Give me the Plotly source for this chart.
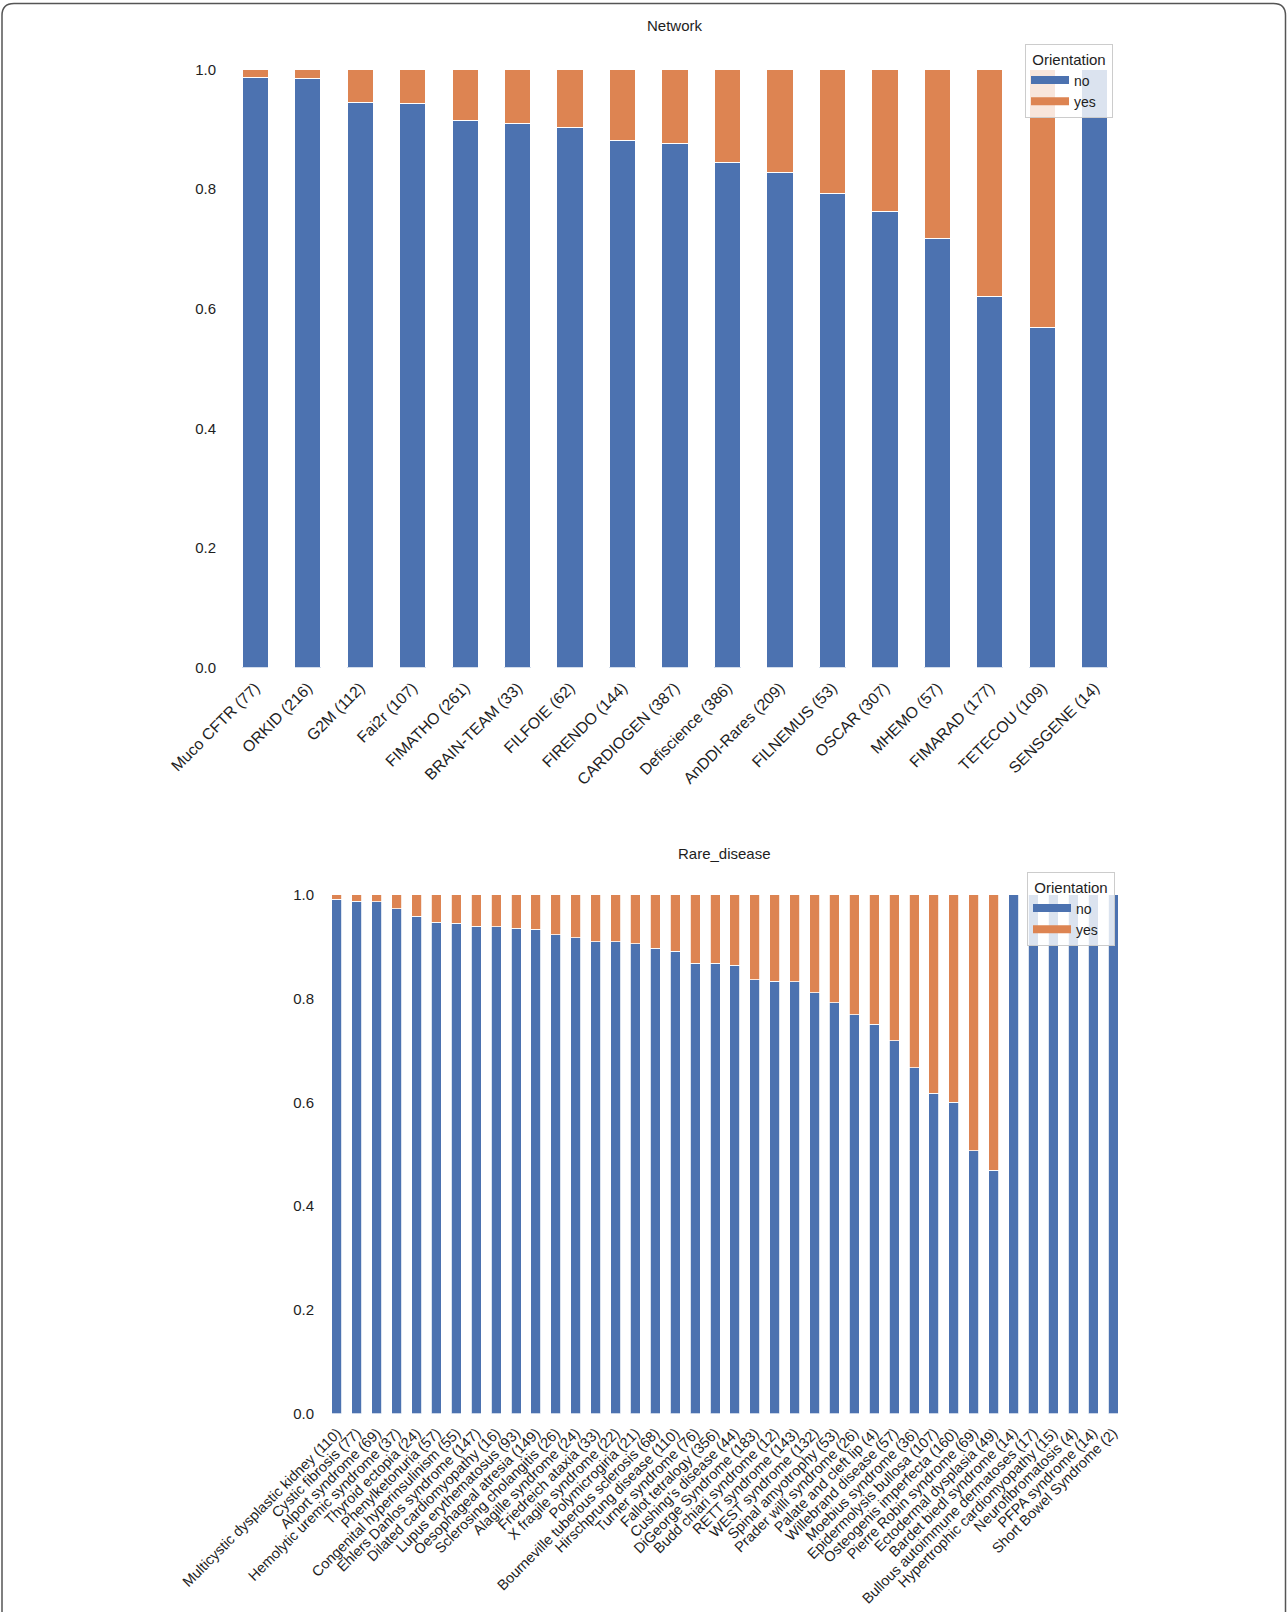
import plotly.graph_objects as go

# ---------------- data ----------------
network_labels = ["Muco CFTR (77)", "ORKID (216)", "G2M (112)", "Fai2r (107)", "FIMATHO (261)",
                  "BRAIN-TEAM (33)", "FILFOIE (62)", "FIRENDO (144)", "CARDIOGEN (387)",
                  "Defiscience (386)", "AnDDI-Rares (209)", "FILNEMUS (53)", "OSCAR (307)",
                  "MHEMO (57)", "FIMARAD (177)", "TETECOU (109)", "SENSGENE (14)"]
network_no = [0.986, 0.984, 0.945, 0.943, 0.915, 0.909, 0.902, 0.881, 0.876,
              0.844, 0.827, 0.792, 0.762, 0.717, 0.621, 0.568, 1.0]
network_yes = [0.014, 0.016, 0.055, 0.057, 0.085, 0.091, 0.098, 0.119, 0.124,
               0.156, 0.173, 0.208, 0.238, 0.283, 0.379, 0.432, 0.0]

disease_labels = ["Multicystic dysplastic kidney (110)", "Cystic fibrosis (77)", "Alport syndrome (69)",
                  "Hemolytic uremic syndrome (37)", "Thyroid ectopia (24)", "Phenylketonuria (57)",
                  "Congenital hyperinsulinism (55)", "Ehlers Danlos syndrome (147)",
                  "Dilated cardiomyopathy (16)", "Lupus erythematosus (93)", "Oesophageal atresia (149)",
                  "Sclerosing cholangitis (26)", "Alagille syndrome (24)", "Friedreich ataxia (33)",
                  "X fragile syndrome (22)", "Polymicrogiria (21)", "Bourneville tuberous sclerosis (68)",
                  "Hirschprung disease (110)", "Turner syndrome (76)", "Fallot tetralogy (356)",
                  "Cushing's disease (44)", "DiGeorge Syndrome (183)", "Budd chiari syndrome (12)",
                  "RETT syndrome (143)", "WEST syndrome (132)", "Spinal amyotrophy (53)",
                  "Prader willi syndrome (26)", "Palate and cleft lip (4)", "Willebrand disease (57)",
                  "Moebius syndrome (36)", "Epidermolysis bullosa (107)", "Osteogenis imperfecta (160)",
                  "Pierre Robin syndrome (69)", "Ectodermal dysplasia (49)", "Bardet biedl syndrome (14)",
                  "Bullous autoimmune dermatoses (17)", "Hypertrophic cardiomyopathy (15)",
                  "Neurofibromatosis (4)", "PFPA syndrome (14)", "Short Bowel Syndrome (2)"]
disease_no = [0.991, 0.987, 0.986, 0.973, 0.958, 0.947, 0.945, 0.939, 0.938, 0.935,
              0.933, 0.923, 0.917, 0.909, 0.909, 0.905, 0.897, 0.891, 0.868, 0.868,
              0.864, 0.836, 0.833, 0.832, 0.811, 0.792, 0.769, 0.750, 0.719, 0.667,
              0.617, 0.600, 0.507, 0.469, 1.0, 1.0, 1.0, 1.0, 1.0, 1.0]
disease_yes = [round(1 - v, 3) for v in disease_no]

y_ticks = [0.0, 0.2, 0.4, 0.6, 0.8, 1.0]
y_tick_text = ["0.0", "0.2", "0.4", "0.6", "0.8", "1.0"]

BLUE = "#4C72B0"
ORANGE = "#DD8452"
TEXT = "#1e1e1e"
FONT = "Liberation Sans, Arial, sans-serif"

W, H = 1287, 1612


def px_x(px):
    return px / W


def px_y(py):
    return 1 - py / H


fig = go.Figure()

# top chart bars
fig.add_trace(go.Bar(x=network_labels, y=network_no, name="no", marker_color=BLUE,
                     marker_line=dict(color="white", width=1), width=0.5,
                     xaxis="x", yaxis="y", showlegend=False))
fig.add_trace(go.Bar(x=network_labels, y=network_yes, name="yes", marker_color=ORANGE,
                     marker_line=dict(color="white", width=1), width=0.5,
                     xaxis="x", yaxis="y", showlegend=False))
# bottom chart bars
fig.add_trace(go.Bar(x=disease_labels, y=disease_no, name="no", marker_color=BLUE,
                     marker_line=dict(color="white", width=0.8), width=0.5,
                     xaxis="x2", yaxis="y2", showlegend=False))
fig.add_trace(go.Bar(x=disease_labels, y=disease_yes, name="yes", marker_color=ORANGE,
                     marker_line=dict(color="white", width=0.8), width=0.5,
                     xaxis="x2", yaxis="y2", showlegend=False))

# legend entries (wide patch look)
for nm, col in (("no", BLUE), ("yes", ORANGE)):
    fig.add_trace(go.Scatter(x=[None], y=[None], mode="lines", name=nm,
                             line=dict(color=col, width=8), xaxis="x", yaxis="y",
                             legend="legend", showlegend=True))
for nm, col in (("no", BLUE), ("yes", ORANGE)):
    fig.add_trace(go.Scatter(x=[None], y=[None], mode="lines", name=nm,
                             line=dict(color=col, width=8), xaxis="x2", yaxis="y2",
                             legend="legend2", showlegend=True))

common_y = dict(range=[0, 1.05], tickvals=y_ticks, ticktext=y_tick_text, showgrid=False,
                zeroline=False, showline=False, ticks="", ticklabelstandoff=12,
                automargin=False, fixedrange=True)
common_x = dict(showgrid=False, zeroline=False, showline=False, ticks="", tickangle=-45,
                automargin=False, ticklabelstandoff=7, fixedrange=True)

legend_common = dict(bgcolor="rgba(255,255,255,0.8)", bordercolor="#cccccc", borderwidth=1,
                     font=dict(family=FONT, size=14, color=TEXT),
                     title=dict(text="&nbsp;Orientation&nbsp;", side="top center",
                                font=dict(family=FONT, size=15, color=TEXT)),
                     itemwidth=38, tracegroupgap=0, traceorder="normal",
                     xanchor="right", yanchor="top")

fig.update_layout(
    width=W, height=H,
    margin=dict(l=0, r=0, t=0, b=0),
    paper_bgcolor="white", plot_bgcolor="white",
    barmode="stack",
    font=dict(family=FONT, size=15, color=TEXT),
    xaxis=dict(domain=[px_x(229), px_x(1121)], anchor="y", range=[-0.5, len(network_labels) - 0.5],
               tickfont=dict(size=15.8), **common_x),
    yaxis=dict(domain=[px_y(667.6), px_y(39.4)], anchor="x", tickfont=dict(size=15), **common_y),
    xaxis2=dict(domain=[px_x(327), px_x(1123)], anchor="y2", range=[-0.5, len(disease_labels) - 0.5],
                tickfont=dict(size=14.5), **common_x),
    yaxis2=dict(domain=[px_y(1413.7), px_y(868.7)], anchor="x2", tickfont=dict(size=15), **common_y),
    legend=dict(x=px_x(1113), y=px_y(44), **legend_common),
    legend2=dict(x=px_x(1115), y=px_y(872), **legend_common),
    annotations=[
        dict(text="Network", x=px_x(675), y=px_y(26), xref="paper", yref="paper",
             showarrow=False, font=dict(family=FONT, size=15, color=TEXT),
             xanchor="center", yanchor="middle"),
        dict(text="Rare_disease", x=px_x(725), y=px_y(854), xref="paper", yref="paper",
             showarrow=False, font=dict(family=FONT, size=15, color=TEXT),
             xanchor="center", yanchor="middle"),
    ],
)

# rounded frame around the figure (open at the bottom)
r = 12
lx, ty, rx, by = 2, 3.5, 1285.5, 1630
path = (f"M {px_x(lx)},{px_y(by)} L {px_x(lx)},{px_y(ty + r)} "
        f"Q {px_x(lx)},{px_y(ty)} {px_x(lx + r)},{px_y(ty)} "
        f"L {px_x(rx - r)},{px_y(ty)} "
        f"Q {px_x(rx)},{px_y(ty)} {px_x(rx)},{px_y(ty + r)} "
        f"L {px_x(rx)},{px_y(by)}")
fig.add_shape(type="path", path=path, xref="paper", yref="paper",
              line=dict(color="#555555", width=1.5), layer="above")

fig.write_html("out.html", config={"displayModeBar": False},
               post_script="document.body.style.margin='0px';document.body.style.overflow='hidden';")
